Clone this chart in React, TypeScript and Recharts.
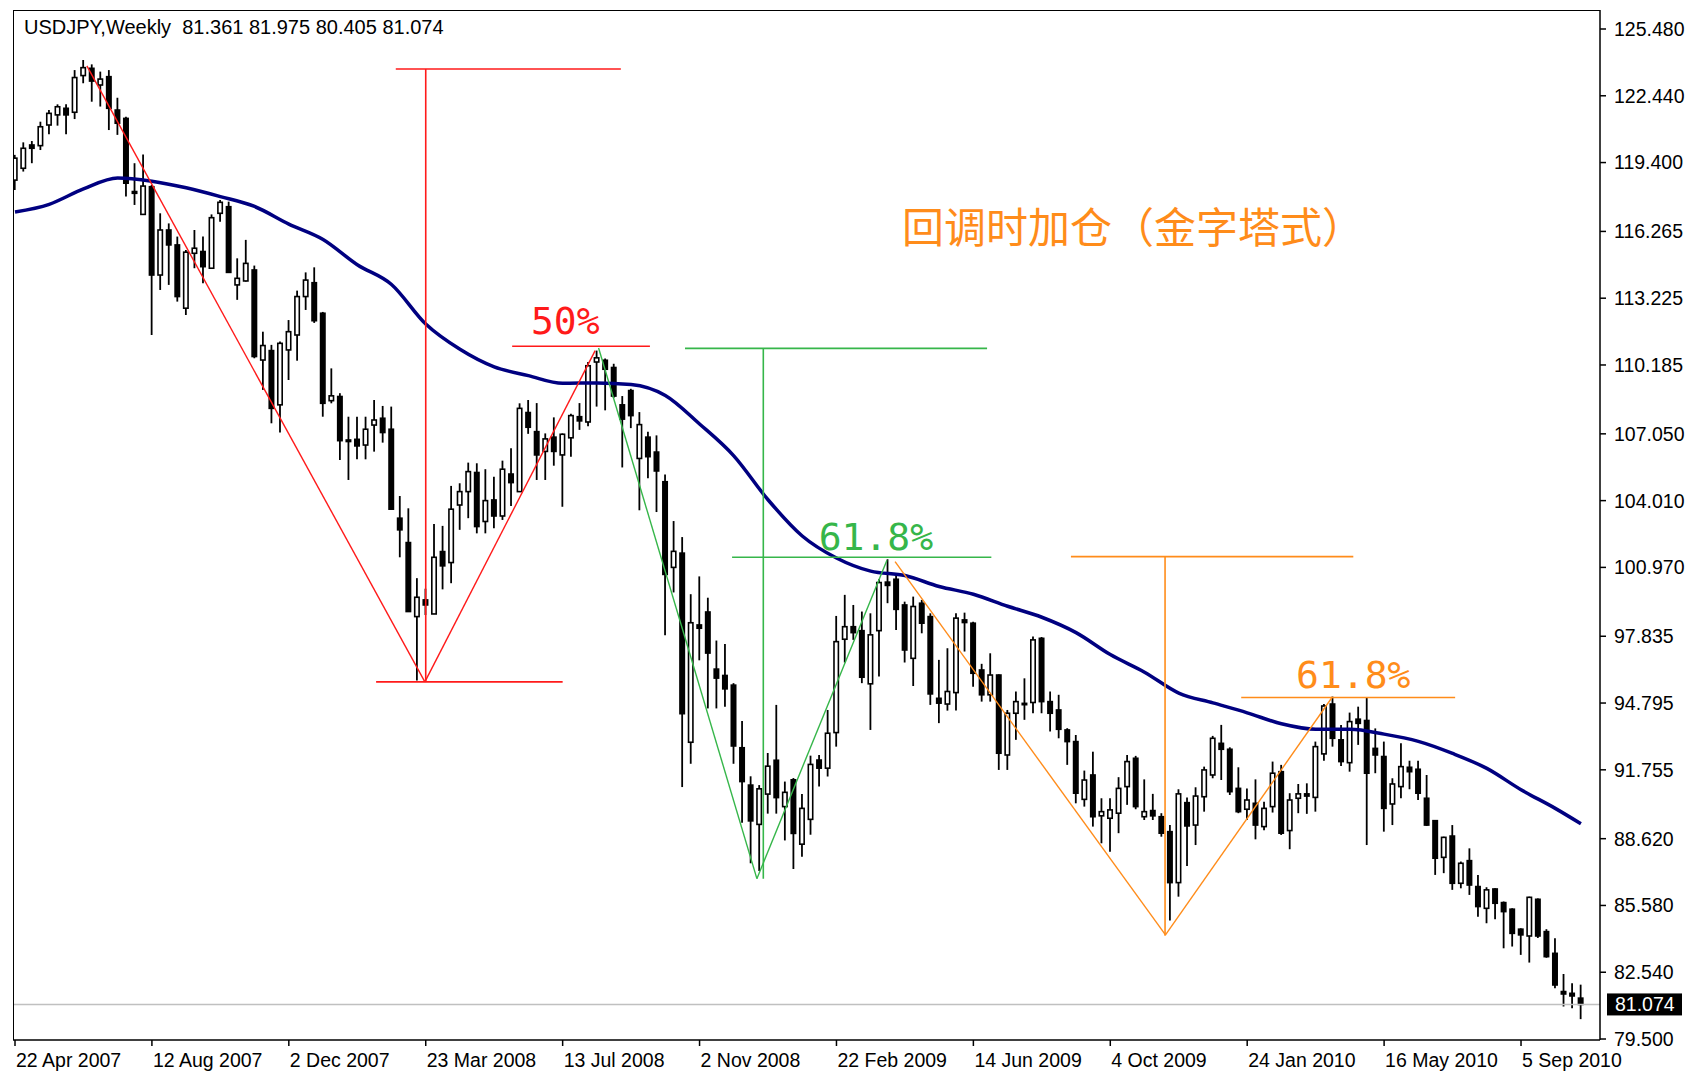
import { Bar, ComposedChart, Line, ReferenceDot, ReferenceLine, XAxis, YAxis } from "recharts"

// weekly USDJPY candles, one per week starting 22 Apr 2007
const open = [
  118.6, 119.14, 120.2, 120.17, 121.11, 121.57, 121.87, 121.69, 123.36, 123.69,
  122.93, 123.31, 121.79, 121.41, 118.08, 117.04, 118.3, 114.28, 116.33, 115.65,
  112.77, 115.27, 115.35, 114.59, 117.09, 117.39, 113.83, 114.01, 114.51, 110.41,
  110.84, 108.37, 110.87, 111.55, 113.3, 113.93, 112.54, 108.56, 108.75, 106.77,
  106.8, 106.54, 107.45, 107.76, 107.26, 103.21, 102.1, 98.73, 99.49, 98.85,
  101.69, 101.19, 103.81, 104.42, 105.29, 103.06, 104.04, 103.31, 105.22, 104.42,
  108.02, 107.15, 106.25, 106.9, 106.09, 106.87, 107.83, 107.59, 110.32, 110.4,
  110.07, 108.37, 109.02, 105.93, 106.9, 106.22, 104.87, 100.97, 101.62, 93.01,
  98.35, 98.94, 96.34, 96.05, 95.61, 92.76, 91.06, 89.27, 90.65, 92.19,
  90.08, 91.3, 88.37, 89.5, 92.2, 91.83, 93.45, 97.7, 98.27, 98.09,
  95.67, 98.09, 100.3, 100.43, 99.26, 96.83, 99.34, 98.73, 95.01, 94.75,
  95.27, 98.58, 98.43, 96.3, 95.17, 96.07, 92.43, 94.33, 94.78, 94.82,
  97.74, 94.86, 94.48, 93.57, 93.04, 90.41, 91.52, 89.66, 89.55, 89.78,
  90.99, 92.28, 89.62, 89.9, 89.62, 88.94, 86.62, 90.26, 89.24, 90.53,
  91.52, 92.96, 92.69, 90.91, 89.96, 90.23, 89.17, 90.08, 91.67, 88.99,
  90.46, 90.66, 90.5, 92.48, 94.75, 93.12, 92.08, 94.06, 94.0, 92.73,
  92.36, 90.2, 90.99, 91.87, 91.78, 90.46, 89.44, 87.77, 88.74, 86.59,
  87.62, 86.44, 85.45, 86.33, 85.71, 85.41, 84.5, 84.19, 85.86, 84.39,
  83.4, 81.66, 81.58, 81.361,
]
const high = [
  119.75, 120.32, 120.38, 121.26, 121.79, 122.05, 122.05, 123.61, 124.07, 123.87,
  123.54, 123.61, 122.35, 121.49, 119.37, 119.77, 118.38, 117.09, 116.63, 116.03,
  115.42, 116.33, 116.03, 117.04, 117.7, 117.62, 115.04, 115.88, 114.71, 111.7,
  111.1, 111.25, 112.23, 113.57, 114.4, 114.63, 112.6, 110.03, 108.9, 107.83,
  107.83, 107.83, 108.59, 108.32, 108.29, 104.22, 103.66, 100.48, 100.0, 102.95,
  102.86, 104.68, 104.8, 105.74, 105.71, 105.44, 105.1, 105.83, 106.39, 108.44,
  108.59, 108.45, 107.07, 107.8, 107.07, 107.96, 108.45, 110.32, 110.84, 110.48,
  110.24, 108.77, 109.1, 108.04, 107.15, 106.98, 105.2, 103.08, 102.35, 99.75,
  100.56, 99.59, 97.64, 97.48, 95.7, 93.98, 91.46, 91.06, 92.52, 94.71,
  91.22, 91.38, 90.65, 92.4, 92.43, 94.48, 98.76, 99.72, 99.26, 98.96,
  98.88, 100.43, 101.34, 100.63, 99.41, 99.64, 99.49, 98.88, 96.76, 97.29,
  98.88, 98.91, 98.5, 96.58, 97.06, 96.1, 94.48, 95.32, 95.92, 97.82,
  97.8, 95.32, 95.17, 93.65, 93.34, 91.72, 92.58, 90.46, 90.46, 91.42,
  92.43, 92.39, 91.32, 90.66, 89.78, 89.24, 90.87, 90.5, 90.96, 91.9,
  93.3, 93.8, 92.78, 91.87, 90.91, 91.32, 90.3, 92.13, 91.98, 90.69,
  91.11, 91.14, 93.04, 94.75, 95.09, 93.8, 94.36, 94.63, 95.06, 93.64,
  93.04, 91.37, 92.96, 92.17, 92.17, 91.52, 89.47, 88.71, 89.24, 87.58,
  88.18, 86.97, 86.41, 86.36, 85.76, 85.45, 84.54, 85.98, 85.9, 84.5,
  84.09, 82.46, 82.04, 81.975,
]
const low = [
  118.15, 118.99, 119.37, 119.97, 120.69, 121.08, 120.69, 121.38, 123.01, 122.17,
  121.95, 120.88, 120.66, 117.85, 117.47, 117.04, 111.55, 113.6, 113.83, 113.07,
  112.46, 114.59, 113.9, 114.59, 116.71, 114.4, 113.15, 113.98, 110.49, 109.05,
  107.53, 107.11, 109.5, 110.38, 112.69, 112.1, 107.83, 108.44, 105.86, 104.95,
  105.89, 105.89, 106.24, 106.65, 103.62, 101.43, 98.96, 95.82, 98.8, 98.85,
  99.97, 100.25, 102.68, 103.21, 102.52, 102.52, 102.75, 103.13, 103.77, 104.42,
  107.05, 104.95, 104.95, 105.6, 103.73, 106.01, 107.23, 107.39, 108.29, 108.12,
  108.69, 105.52, 107.31, 103.57, 105.03, 103.49, 97.88, 99.83, 90.97, 92.03,
  96.74, 94.55, 94.55, 94.63, 92.03, 89.35, 87.5, 87.15, 89.76, 89.76,
  88.54, 87.24, 87.8, 88.8, 91.0, 91.45, 92.81, 96.64, 97.67, 95.7,
  93.57, 96.0, 99.34, 98.12, 96.64, 95.57, 97.97, 94.71, 93.88, 94.45,
  94.45, 97.14, 95.54, 94.86, 94.86, 91.75, 91.75, 93.12, 94.03, 94.33,
  94.33, 93.5, 93.19, 91.98, 90.23, 90.08, 89.17, 88.41, 88.03, 88.87,
  90.16, 89.96, 89.47, 89.47, 88.71, 84.89, 85.98, 87.38, 88.33, 89.85,
  91.37, 91.29, 90.61, 89.78, 89.47, 88.59, 89.0, 89.81, 88.79, 88.14,
  89.78, 89.75, 89.85, 92.17, 92.81, 91.93, 91.67, 92.89, 88.33, 91.6,
  88.94, 89.24, 90.46, 90.87, 90.38, 89.2, 86.97, 87.05, 86.29, 86.36,
  86.06, 85.07, 84.77, 84.95, 83.63, 83.71, 83.33, 82.98, 84.1, 83.2,
  81.81, 80.98, 80.9, 80.405,
]
const close = [
  119.6, 120.05, 120.05, 121.03, 121.64, 121.94, 121.57, 123.27, 123.72, 123.11,
  123.2, 121.87, 121.19, 118.46, 118.0, 118.33, 114.28, 116.33, 115.65, 113.3,
  115.32, 115.5, 114.66, 116.89, 117.59, 114.4, 114.13, 114.81, 110.57, 111.07,
  108.21, 111.17, 111.7, 113.3, 114.05, 112.2, 108.44, 108.78, 106.74, 106.7,
  106.5, 107.26, 107.68, 107.11, 103.62, 102.68, 98.96, 99.61, 99.26, 101.43,
  101.04, 103.62, 104.42, 105.33, 102.83, 104.01, 103.31, 105.44, 104.83, 108.21,
  107.35, 106.09, 106.82, 106.25, 107.03, 107.88, 107.64, 110.15, 110.51, 109.99,
  108.77, 107.72, 107.88, 107.47, 106.01, 105.36, 100.65, 101.7, 94.31, 98.45,
  98.2, 97.07, 95.93, 95.44, 92.84, 91.22, 89.43, 90.89, 91.92, 90.49,
  90.73, 88.86, 90.0, 92.0, 91.83, 93.42, 97.59, 98.27, 98.0, 95.97,
  97.9, 100.28, 100.15, 99.06, 97.21, 99.19, 98.43, 95.21, 94.79, 95.32,
  98.66, 98.46, 96.15, 95.17, 96.07, 92.51, 94.33, 94.86, 94.72, 97.67,
  94.86, 94.33, 93.6, 93.04, 90.69, 91.29, 89.62, 89.85, 89.93, 90.91,
  92.13, 90.08, 89.85, 89.66, 88.87, 86.62, 90.66, 89.2, 90.56, 91.75,
  93.19, 92.69, 90.76, 89.85, 90.38, 89.24, 90.0, 91.6, 88.87, 90.38,
  90.66, 90.56, 92.81, 94.66, 93.19, 92.13, 93.95, 93.87, 91.6, 92.43,
  90.0, 91.11, 91.9, 91.67, 90.69, 89.24, 87.73, 88.68, 86.59, 87.5,
  86.51, 85.53, 86.29, 85.68, 85.3, 84.31, 84.24, 85.95, 84.19, 83.25,
  81.96, 81.55, 81.46, 81.074,
]

const maWeek = [0, 4, 8, 12, 16, 20, 24, 28, 32, 36, 40, 44, 48, 52, 56, 60, 64, 68, 72, 76, 80, 84, 88, 92,
  96, 100, 104, 108, 112, 116, 120, 124, 128, 132, 136, 140, 144, 148, 152, 156, 160, 164, 168, 172, 176, 180, 183]
const maValue = [117.15, 117.5, 118.2, 118.7, 118.55, 118.25, 117.85, 117.4, 116.6, 115.9, 114.75, 113.85,
  112.05, 110.9, 110.1, 109.7, 109.35, 109.37, 109.3, 108.8, 107.5, 106.05, 104.05, 102.4,
  101.4, 100.8, 100.6, 100.1, 99.75, 99.2, 98.7, 98.0, 97.0, 96.2, 95.25, 94.8, 94.35, 93.85,
  93.6, 93.6, 93.38, 93.05, 92.5, 91.82, 90.85, 90.0, 89.3]

const tickWeeks = [0, 16, 32, 48, 64, 80, 96, 112, 128, 144, 160, 176]
const tickLabels = ["22 Apr 2007", "12 Aug 2007", "2 Dec 2007", "23 Mar 2008", "13 Jul 2008", "2 Nov 2008",
  "22 Feb 2009", "14 Jun 2009", "4 Oct 2009", "24 Jan 2010", "16 May 2010", "5 Sep 2010"]
const priceTicks = [125.48, 122.44, 119.4, 116.265, 113.225, 110.185, 107.05, 104.01, 100.97, 97.835,
  94.795, 91.755, 88.62, 85.58, 82.54, 79.5]
const lastPrice = 81.074

// drawn objects on the chart, in (week, price)
const redZig = [[8.4, 123.8], [47.9, 95.76], [67.8, 110.84]]
const redLevels = [[44.5, 70.8, 123.66], [42.2, 64.0, 95.76], [58.1, 74.2, 111.04]]
const redStick = [48.0, 95.76, 123.66]
const greenZig = [[68.2, 110.96], [86.7, 86.8], [101.9, 101.3]]
const greenLevels = [[78.3, 113.6, 110.94], [83.8, 114.1, 101.43]]
const greenStick = [87.45, 86.8, 110.94]
const orangeZig = [[102.85, 101.23], [134.45, 84.24], [153.95, 95.07]]
const orangeLevels = [[123.4, 156.4, 101.46], [143.3, 168.3, 95.05]]
const orangeStick = [134.4, 84.2, 101.46]

const RED = "#ff1a1a"
const GREEN = "#36b64a"
const ORANGE = "#ff8c1a"

const rows = open.map((o, i) => ({
  i,
  open: o,
  high: high[i],
  low: low[i],
  close: close[i],
  ma: maWeek.includes(i) ? maValue[maWeek.indexOf(i)] : undefined,
}))

function Candle(props: any) {
  const { x, y, width, height, payload } = props
  if (payload == null || y == null) return null
  const top = Math.min(y, y + height)
  const bot = Math.max(y, y + height)
  const span = payload.high - payload.low
  const py = (v: number) => (span === 0 ? top : top + ((payload.high - v) / span) * (bot - top))
  const cx = x + width / 2
  const o = py(payload.open)
  const c = py(payload.close)
  const bt = Math.min(o, c)
  const bb = Math.max(o, c)
  const up = payload.close >= payload.open
  return (
    <g>
      <line x1={cx} x2={cx} y1={top} y2={bot} stroke="#000" strokeWidth={1.8} />
      <rect x={cx - 2.2} y={bt} width={4.4} height={Math.max(bb - bt, 0.8)} fill={up ? "#fff" : "#000"} stroke="#000" strokeWidth={1.6} />
    </g>
  )
}

function WeekTick(props: any) {
  const { x, y, payload } = props
  const k = tickWeeks.indexOf(payload.value)
  return (
    <text x={x + 1} y={y + 21} fontSize={19.5} fontFamily="Liberation Sans, Arial, sans-serif" fill="#000">
      {k >= 0 ? tickLabels[k] : ""}
    </text>
  )
}

function PriceTag(props: any) {
  const { viewBox } = props
  const x = viewBox.x + viewBox.width
  const y = viewBox.y
  return (
    <g>
      <rect x={x + 7} y={y - 11} width={75} height={22} fill="#000" />
      <text x={x + 15} y={y} dominantBaseline="central" fontSize={19.5} fontFamily="Liberation Sans, Arial, sans-serif" fill="#fff">
        {lastPrice.toFixed(3)}
      </text>
    </g>
  )
}

function note(text: string, color: string, size: number, family: string) {
  return (p: any) => (
    <text x={p.cx} y={p.cy} textAnchor="middle" dominantBaseline="central" fontSize={size} fontFamily={family} fill={color}>
      {text}
    </text>
  )
}

function zigzag(points: number[][], color: string, key: string) {
  return points.slice(1).map((p, k) => (
    <ReferenceLine
      key={key + k}
      segment={[{ x: points[k][0], y: points[k][1] }, { x: p[0], y: p[1] }]}
      stroke={color}
      strokeWidth={1.4}
      ifOverflow="visible"
    />
  ))
}

function levels(lines: number[][], color: string, key: string) {
  return lines.map((l, k) => (
    <ReferenceLine key={key + k} segment={[{ x: l[0], y: l[2] }, { x: l[1], y: l[2] }]} stroke={color} strokeWidth={1.6} ifOverflow="visible" />
  ))
}

function stick(s: number[], color: string, key: string) {
  return <ReferenceLine key={key} segment={[{ x: s[0], y: s[1] }, { x: s[0], y: s[2] }]} stroke={color} strokeWidth={1.6} ifOverflow="visible" />
}

export default function App() {
  const mono = "DejaVu Sans Mono, Liberation Mono, monospace"
  return (
    <div style={{ position: "absolute", left: 0, top: 0, width: 1688, height: 1071, background: "#fff" }}>
      <ComposedChart width={1688} height={1071} data={rows} margin={{ top: 10, right: 0, bottom: 0, left: 13 }}>
        <XAxis
          dataKey="i"
          type="number"
          domain={[-0.234, 185.23]}
          allowDataOverflow
          ticks={tickWeeks}
          interval={0}
          height={31}
          tickSize={6}
          tickMargin={0}
          stroke="#000"
          strokeWidth={1.5}
          tick={<WeekTick />}
        />
        <YAxis
          orientation="right"
          type="number"
          domain={[79.455, 126.345]}
          allowDataOverflow
          ticks={priceTicks}
          interval={0}
          width={88}
          tickSize={6}
          tickMargin={8}
          stroke="#000"
          strokeWidth={1.5}
          tickFormatter={(v: number) => v.toFixed(3)}
          tick={{ fill: "#000", fontSize: 19.5, fontFamily: "Liberation Sans, Arial, sans-serif" }}
        />
        <ReferenceLine y={lastPrice} stroke="#c0c0c0" strokeWidth={1.5} label={<PriceTag />} />
        <Bar dataKey={(d: any) => [d.low, d.high]} barSize={6} shape={<Candle />} isAnimationActive={false} />
        <Line dataKey="ma" type="monotone" stroke="#000080" strokeWidth={3.5} dot={false} connectNulls isAnimationActive={false} />
        {zigzag(redZig, RED, "rz")}
        {levels(redLevels, RED, "rl")}
        {stick(redStick, RED, "rs")}
        {zigzag(greenZig, GREEN, "gz")}
        {levels(greenLevels, GREEN, "gl")}
        {stick(greenStick, GREEN, "gs")}
        {zigzag(orangeZig, ORANGE, "oz")}
        {levels(orangeLevels, ORANGE, "ol")}
        {stick(orangeStick, ORANGE, "os")}
        <ReferenceDot x={64.3} y={112.17} r={0} ifOverflow="visible" shape={note("50%", RED, 38, mono)} />
        <ReferenceDot x={100.6} y={102.36} r={0} ifOverflow="visible" shape={note("61.8%", GREEN, 38, mono)} />
        <ReferenceDot x={156.4} y={96.05} r={0} ifOverflow="visible" shape={note("61.8%", ORANGE, 38, mono)} />
        <ReferenceDot
          x={130.65}
          y={116.56}
          r={0}
          ifOverflow="visible"
          shape={note("回调时加仓（金字塔式）", ORANGE, 42, "Noto Sans CJK SC, sans-serif")}
        />
      </ComposedChart>
      <div style={{ position: "absolute", left: 13, top: 10, width: 1587, height: 1030, borderLeft: "1.5px solid #000", borderTop: "1.5px solid #000", boxSizing: "border-box", pointerEvents: "none" }} />
      <div style={{ position: "absolute", left: 24, top: 15, fontSize: 20, lineHeight: "24px", fontFamily: "Liberation Sans, Arial, sans-serif", color: "#000", whiteSpace: "pre" }}>
        {"USDJPY,Weekly  81.361 81.975 80.405 81.074"}
      </div>
    </div>
  )
}
